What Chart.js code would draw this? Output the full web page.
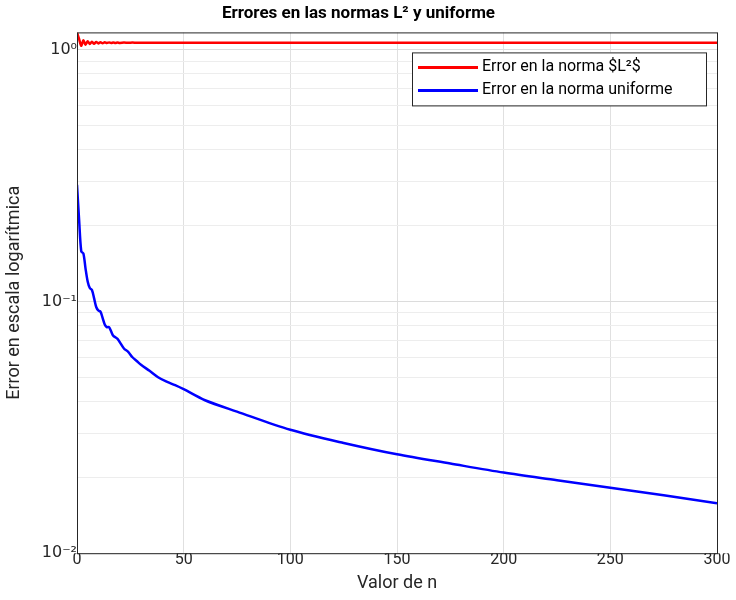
<!DOCTYPE html>
<html><head><meta charset="utf-8">
<script src="https://cdn.jsdelivr.net/npm/chart.js@4/dist/chart.umd.min.js"></script>
<style>body{margin:0;background:#fff}#w{width:736px;height:600px}</style>
</head><body><div id="w"><canvas id="c"></canvas></div>
<script>
const redN = [0,1,2,3,4,5,6,7,8,9,10,11,12,13,14,15,16,17,18,19,20,22,24,26,28,30,40,60,100,150,200,250,300];
const redV = [1.17,1.10,1.035,1.09,1.045,1.08,1.052,1.075,1.055,1.072,1.058,1.07,1.06,1.069,1.061,1.068,1.062,1.067,1.063,1.067,1.063,1.066,1.064,1.066,1.064,1.065,1.065,1.065,1.065,1.065,1.065,1.065,1.065];
const blueN = [0,1,2,3,4,5,6,7,8,9,10,11,12,13,14,15,16,17,18,19,20,22,24,26,28,30,34,38,42,46,50,60,75,100,125,150,175,200,225,250,275,300];
const blueV = [0.29,0.21,0.158,0.155,0.135,0.12,0.113,0.111,0.103,0.095,0.092,0.091,0.086,0.081,0.079,0.079,0.076,0.073,0.072,0.071,0.069,0.065,0.063,0.060,0.058,0.056,0.053,0.050,0.048,0.0465,0.0448,0.0405,0.0365,0.0309,0.0274,0.0247,0.0227,0.0209,0.0195,0.0182,0.0170,0.0158];
const xTicks = [0,50,100,150,200,250,300];
const sup = {'0':'⁰','1':'¹','2':'²','-':'⁻'};
const boxPlugin = {id:'box',afterDraw(ch){const a=ch.chartArea,c=ch.ctx;c.save();c.strokeStyle='#262626';c.lineWidth=1;c.strokeRect(a.left+0.5,a.top+0.5,a.right-a.left,a.bottom-a.top);
 // legend
 const lx=a.right-305,ly=a.top+20,w=294,h=53;
 c.fillStyle='#fff';c.fillRect(lx,ly,w,h);c.strokeStyle='#262626';c.strokeRect(lx+0.5,ly+0.5,w,h);
 c.font='16px Roboto, "DejaVu Sans", sans-serif';c.textBaseline='middle';
 ch.data.datasets.forEach((d,i)=>{const yy=ly+15+i*23;c.strokeStyle=d.borderColor;c.lineWidth=3;c.beginPath();c.moveTo(lx+6,yy);c.lineTo(lx+66,yy);c.stroke();c.fillStyle='#000';c.fillText(d.label,lx+70,yy);});
 c.restore();}};
Chart.defaults.font.family='Roboto, "Liberation Sans", sans-serif';
Chart.defaults.color='#262626';
new Chart(document.getElementById('c'),{
type:'line',
data:{datasets:[
 {label:'Error en la norma $L²$',data:redN.map((n,i)=>({x:n,y:redV[i]})),borderColor:'#ff0000',backgroundColor:'#ff0000',borderWidth:2.5,pointRadius:0,tension:0.3},
 {label:'Error en la norma uniforme',data:blueN.map((n,i)=>({x:n,y:blueV[i]})),borderColor:'#0000ff',backgroundColor:'#0000ff',borderWidth:2.5,pointRadius:0,tension:0.3}
]},
options:{responsive:true,maintainAspectRatio:false,animation:false,
 layout:{padding:{left:0,right:19,top:0,bottom:2}},
 plugins:{
  title:{display:true,text:'Errores en las normas L² y uniforme',font:{size:17,weight:'bold'},color:'#000',padding:{top:4,bottom:8}},
  legend:{display:false},
  tooltip:{enabled:false}
 },
 scales:{
  x:{type:'linear',min:0,max:300,afterBuildTicks:s=>{s.ticks=xTicks.map(v=>({value:v}))},
   ticks:{font:{size:16},color:'#262626'},
   grid:{color:'#e0e0e0',tickLength:-6,drawTicks:true},border:{display:false},
   title:{display:true,text:'Valor de n',font:{size:18},color:'#262626',padding:{top:0}}},
  y:{type:'logarithmic',min:0.01,max:1.17,afterFit:s=>{s.width=77;},
   afterBuildTicks:s=>{const t=[];for(let e=-2;e<=0;e++)for(let m=1;m<=9;m++){const v=m*Math.pow(10,e);if(v<=1.17)t.push({value:v});}s.ticks=t;},
   ticks:{font:{size:16,family:'"DejaVu Sans", sans-serif'},color:'#262626',autoSkip:false,padding:6,callback:v=>{const l=Math.log10(v);if(Math.abs(l-Math.round(l))<1e-9){return '10'+String(Math.round(l)).split('').map(ch=>sup[ch]).join('');}return '';}},
   grid:{color:c=>{const l=Math.log10(c.tick.value);return Math.abs(l-Math.round(l))<1e-9?'#dcdcdc':'#ededed';},tickLength:-6},border:{display:false},
   title:{display:true,text:'Error en escala logarítmica',font:{size:18},color:'#262626',padding:{bottom:0}}}
 }
},plugins:[boxPlugin]});
</script></body></html>
